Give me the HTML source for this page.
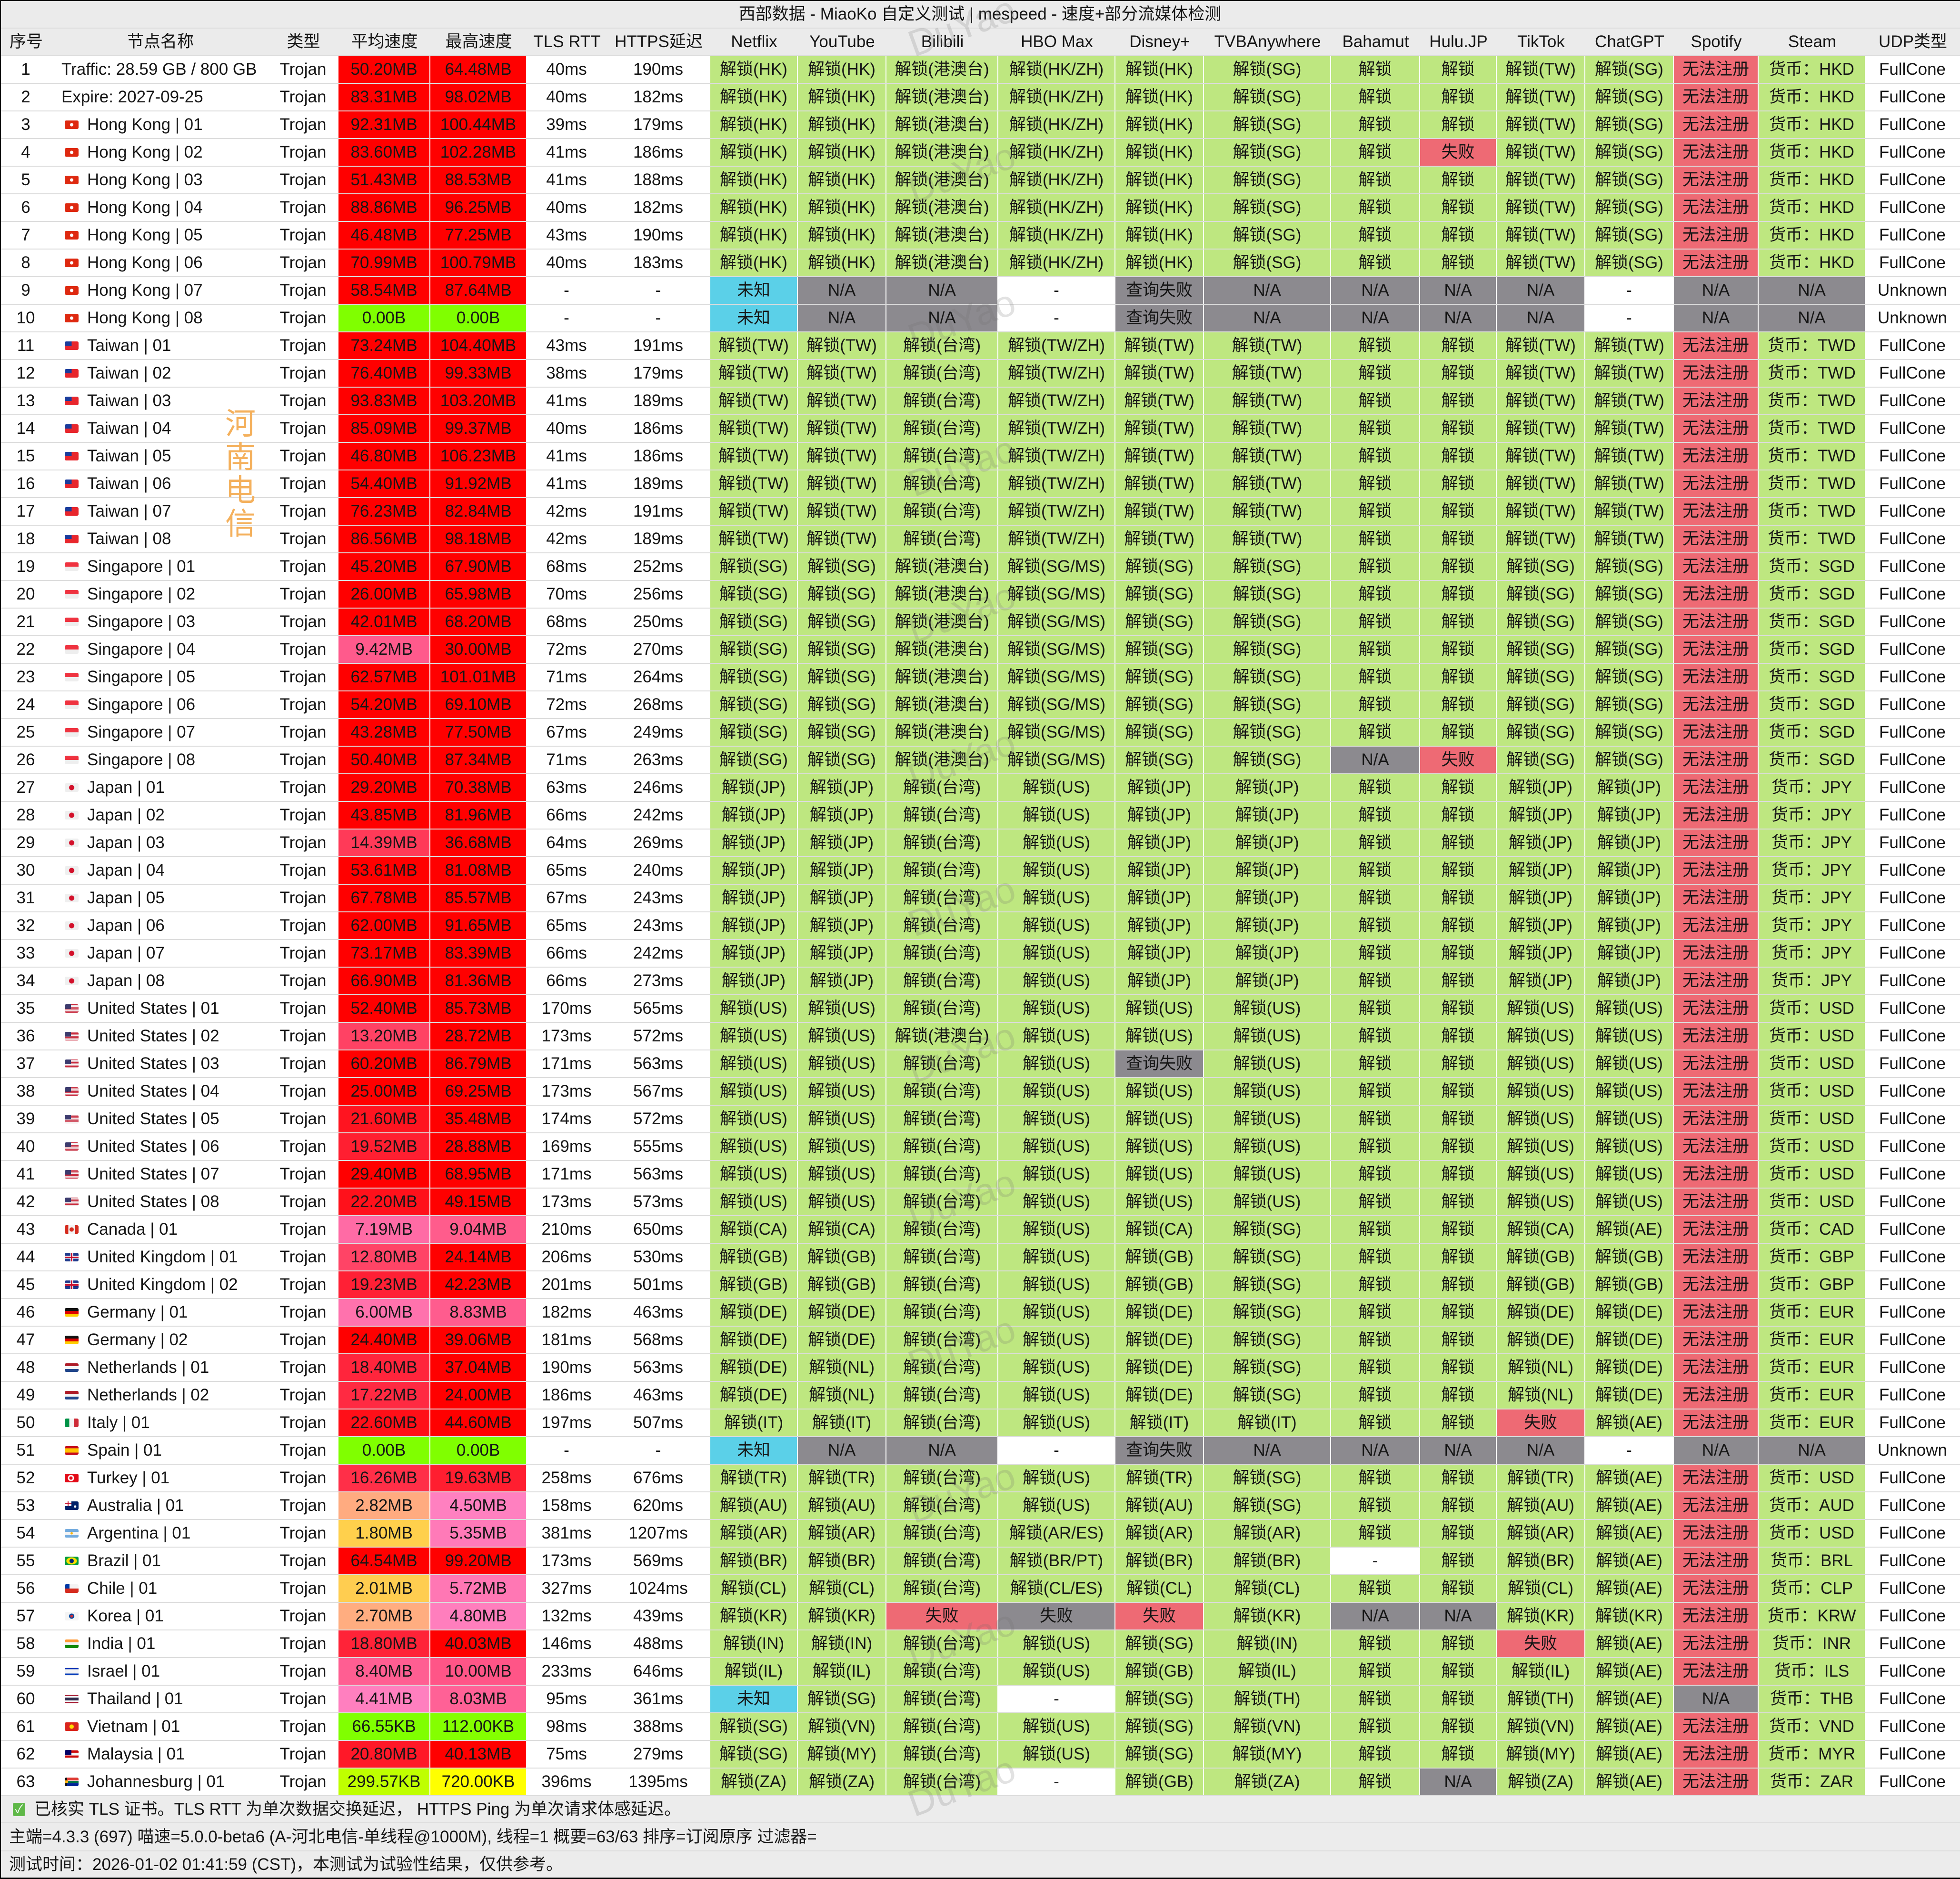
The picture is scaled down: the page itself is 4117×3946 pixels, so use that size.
<!DOCTYPE html>
<html><head><meta charset="utf-8"><title>mespeed</title>
<style>
*{margin:0;padding:0;box-sizing:border-box}
html,body{width:4117px;height:3946px;overflow:hidden;background:#fff}
body{position:relative;font-family:"Liberation Sans","Noto Sans CJK SC",sans-serif;font-size:35px;color:#161616}
.bt{position:absolute;left:0;top:0;width:4117px;height:2px;background:#000;z-index:6}
.bl{position:absolute;left:0;top:0;width:2px;height:3946px;background:#111;z-index:6}
.bb{position:absolute;left:0;top:3943px;width:4117px;height:3px;background:#000;z-index:6}
#tt{position:absolute;left:0;top:2px;width:4117px;height:56px;line-height:56px;background:#ebebeb;text-align:center;white-space:nowrap}
.gr{display:grid;grid-template-columns:110px 454px 147px 193px 203px 168px 217px 184px 186px 235px 246px 186px 267px 187px 161px 186px 186px 178px 225px 198px}
#hd{position:absolute;left:0;top:58px;width:4117px;height:60px;border-top:2px solid #dcdcdc;border-bottom:2px solid #dcdcdc;background:#ebebeb}
#hd>p{line-height:56px;text-align:center;white-space:nowrap}
#rows{position:absolute;left:0;top:118px;width:4117px}
.r{height:58px;border-bottom:2px solid #dcdcdc}
.r>p{border-right:2px solid #fff;line-height:56px;text-align:center;white-space:nowrap;overflow:hidden}
.r>p:where(:nth-child(4),:nth-child(5)){background:#f00}
.r>p:where(:nth-child(n+8):nth-child(-n+19)){background:#bee780}
.r>.p{background:#ee6a74}
.r>.x{background:#8c8a8f}
.r>.c{background:#5bd0e8}
.r>.w{background:#fff}
.r>.G{background:#80ff00}
.r>.n{text-align:left;padding-left:73px;position:relative}
.r>.n0{padding-left:19px}
.n span{position:absolute;left:26px;top:19px;width:29px;height:18px;border-radius:3px}
.hk{background:radial-gradient(circle,#fff 0 3px,#de2910 4px)}
.tw{background:linear-gradient(#1a3c9c,#1a3c9c) 0 0/50% 50% no-repeat,#e8262c}
.sg{background:linear-gradient(#ef3340 50%,#eeeeee 50%)}
.jp{background:radial-gradient(circle,#d3112b 0 5px,#efefef 6px)}
.us{background:linear-gradient(#3c3b6e,#3c3b6e) 0 0/45% 54% no-repeat,repeating-linear-gradient(#c8283b 0 1.4px,#f4f4f4 1.4px 2.8px)}
.ca{background:radial-gradient(circle,#d52b1e 0 4px,transparent 5px),linear-gradient(90deg,#d52b1e 26%,#f4f4f4 26% 74%,#d52b1e 74%)}
.gb{background:linear-gradient(#c8102e,#c8102e) center/100% 3px no-repeat,linear-gradient(#c8102e,#c8102e) center/3px 100% no-repeat,linear-gradient(#fff,#fff) center/100% 6px no-repeat,linear-gradient(#fff,#fff) center/6px 100% no-repeat,#203a8c}
.de{background:linear-gradient(#111 33.3%,#dd0000 33.3% 66.6%,#ffce00 66.6%)}
.nl{background:linear-gradient(#ae1c28 33.3%,#f4f4f4 33.3% 66.6%,#21468b 66.6%)}
.it{background:linear-gradient(90deg,#009246 33.3%,#f4f4f4 33.3% 66.6%,#ce2b37 66.6%)}
.es{background:linear-gradient(#c60b1e 25%,#ffc400 25% 75%,#c60b1e 75%)}
.tr{background:radial-gradient(circle at 45% 50%,#e30a17 0 3px,#fff 4px 6px,#e30a17 7px)}
.au{background:linear-gradient(#c8102e,#c8102e) 0 4px/14px 2px no-repeat,linear-gradient(#c8102e,#c8102e) 6px 0/2px 10px no-repeat,linear-gradient(#fff,#fff) 0 0/14px 10px no-repeat,radial-gradient(circle at 75% 60%,#fff 0 2px,transparent 3px),#012169}
.ar{background:radial-gradient(circle,#f6b40e 0 2px,transparent 3px),linear-gradient(#74acdf 33.3%,#f4f4f4 33.3% 66.6%,#74acdf 66.6%)}
.br{background:radial-gradient(circle,#002776 0 4px,transparent 5px),radial-gradient(ellipse 12px 8px at center,#ffdf00 0 85%,#009c3b 100%)}
.cl{background:linear-gradient(#0039a6,#0039a6) 0 0/10px 9px no-repeat,linear-gradient(#f4f4f4 50%,#d52b1e 50%)}
.kr{background:radial-gradient(circle,#cd2e3a 0 3px,#0047a0 3px 5px,#f4f4f4 6px)}
.in{background:linear-gradient(#ff9933 33.3%,#f4f4f4 33.3% 66.6%,#138808 66.6%)}
.il{background:linear-gradient(#f4f4f4 12%,#0038b8 12% 24%,#f4f4f4 24% 76%,#0038b8 76% 88%,#f4f4f4 88%)}
.th{background:linear-gradient(#a51931 16.6%,#f4f5f8 16.6% 33.3%,#2d2a4a 33.3% 66.6%,#f4f5f8 66.6% 83.3%,#a51931 83.3%)}
.vn{background:radial-gradient(circle,#ffde00 0 4px,#da251d 5px)}
.my{background:linear-gradient(#010066,#010066) 0 0/14px 10px no-repeat,repeating-linear-gradient(#cc0001 0 1.3px,#f4f4f4 1.3px 2.6px)}
.za{background:linear-gradient(#ffb612,#ffb612) 0 50%/7px 6px no-repeat,linear-gradient(#111,#111) 0 0/5px 100% no-repeat,linear-gradient(#de3831 33%,#f4f4f4 33% 40%,#007a4d 40% 60%,#f4f4f4 60% 67%,#002395 67%)}
.wm{position:absolute;left:1890px;width:260px;height:90px;line-height:90px;text-align:center;font-size:78px;color:rgba(110,110,110,0.2);transform:rotate(-20deg);z-index:4;white-space:nowrap}
#hn{position:absolute;left:470px;top:850px;width:70px;font-size:64px;line-height:70px;color:#f4b05c;text-align:center;z-index:4;font-family:"Noto Sans CJK SC",sans-serif}
#ft{position:absolute;left:0;top:3772px;width:4117px;height:171px;background:#ececec}
.fl{height:57px;line-height:55px;padding-left:19px;border-bottom:2px solid #dcdcdc;white-space:nowrap;position:relative}
.fl.l2{height:59px;line-height:57px}
.fl.l3{height:55px;line-height:55px;border-bottom:none}
.ck{position:absolute;left:27px;top:14px;width:26px;height:28px;background:#5fb848;border-radius:4px;color:#fff;font-size:24px;line-height:28px;text-align:center}
</style></head><body>
<div class="bt"></div><div class="bl"></div><div class="bb"></div>
<div id="tt">西部数据 - MiaoKo 自定义测试 | mespeed - 速度+部分流媒体检测</div>
<div id="hd" class="gr"><p>序号</p><p>节点名称</p><p>类型</p><p>平均速度</p><p>最高速度</p><p>TLS RTT</p><p>HTTPS延迟</p><p>Netflix</p><p>YouTube</p><p>Bilibili</p><p>HBO Max</p><p>Disney+</p><p>TVBAnywhere</p><p>Bahamut</p><p>Hulu.JP</p><p>TikTok</p><p>ChatGPT</p><p>Spotify</p><p>Steam</p><p>UDP类型</p></div>
<div id="rows">
<div class="gr r"><p>1</p><p class="n n0">Traffic: 28.59 GB / 800 GB</p><p>Trojan</p><p>50.20MB</p><p>64.48MB</p><p>40ms</p><p>190ms</p><p>解锁(HK)</p><p>解锁(HK)</p><p>解锁(港澳台)</p><p>解锁(HK/ZH)</p><p>解锁(HK)</p><p>解锁(SG)</p><p>解锁</p><p>解锁</p><p>解锁(TW)</p><p>解锁(SG)</p><p class=p>无法注册</p><p>货币：HKD</p><p>FullCone</p></div>
<div class="gr r"><p>2</p><p class="n n0">Expire: 2027-09-25</p><p>Trojan</p><p>83.31MB</p><p>98.02MB</p><p>40ms</p><p>182ms</p><p>解锁(HK)</p><p>解锁(HK)</p><p>解锁(港澳台)</p><p>解锁(HK/ZH)</p><p>解锁(HK)</p><p>解锁(SG)</p><p>解锁</p><p>解锁</p><p>解锁(TW)</p><p>解锁(SG)</p><p class=p>无法注册</p><p>货币：HKD</p><p>FullCone</p></div>
<div class="gr r"><p>3</p><p class="n"><span class="hk"></span>Hong Kong | 01</p><p>Trojan</p><p>92.31MB</p><p>100.44MB</p><p>39ms</p><p>179ms</p><p>解锁(HK)</p><p>解锁(HK)</p><p>解锁(港澳台)</p><p>解锁(HK/ZH)</p><p>解锁(HK)</p><p>解锁(SG)</p><p>解锁</p><p>解锁</p><p>解锁(TW)</p><p>解锁(SG)</p><p class=p>无法注册</p><p>货币：HKD</p><p>FullCone</p></div>
<div class="gr r"><p>4</p><p class="n"><span class="hk"></span>Hong Kong | 02</p><p>Trojan</p><p>83.60MB</p><p>102.28MB</p><p>41ms</p><p>186ms</p><p>解锁(HK)</p><p>解锁(HK)</p><p>解锁(港澳台)</p><p>解锁(HK/ZH)</p><p>解锁(HK)</p><p>解锁(SG)</p><p>解锁</p><p class=p>失败</p><p>解锁(TW)</p><p>解锁(SG)</p><p class=p>无法注册</p><p>货币：HKD</p><p>FullCone</p></div>
<div class="gr r"><p>5</p><p class="n"><span class="hk"></span>Hong Kong | 03</p><p>Trojan</p><p>51.43MB</p><p>88.53MB</p><p>41ms</p><p>188ms</p><p>解锁(HK)</p><p>解锁(HK)</p><p>解锁(港澳台)</p><p>解锁(HK/ZH)</p><p>解锁(HK)</p><p>解锁(SG)</p><p>解锁</p><p>解锁</p><p>解锁(TW)</p><p>解锁(SG)</p><p class=p>无法注册</p><p>货币：HKD</p><p>FullCone</p></div>
<div class="gr r"><p>6</p><p class="n"><span class="hk"></span>Hong Kong | 04</p><p>Trojan</p><p>88.86MB</p><p>96.25MB</p><p>40ms</p><p>182ms</p><p>解锁(HK)</p><p>解锁(HK)</p><p>解锁(港澳台)</p><p>解锁(HK/ZH)</p><p>解锁(HK)</p><p>解锁(SG)</p><p>解锁</p><p>解锁</p><p>解锁(TW)</p><p>解锁(SG)</p><p class=p>无法注册</p><p>货币：HKD</p><p>FullCone</p></div>
<div class="gr r"><p>7</p><p class="n"><span class="hk"></span>Hong Kong | 05</p><p>Trojan</p><p>46.48MB</p><p>77.25MB</p><p>43ms</p><p>190ms</p><p>解锁(HK)</p><p>解锁(HK)</p><p>解锁(港澳台)</p><p>解锁(HK/ZH)</p><p>解锁(HK)</p><p>解锁(SG)</p><p>解锁</p><p>解锁</p><p>解锁(TW)</p><p>解锁(SG)</p><p class=p>无法注册</p><p>货币：HKD</p><p>FullCone</p></div>
<div class="gr r"><p>8</p><p class="n"><span class="hk"></span>Hong Kong | 06</p><p>Trojan</p><p>70.99MB</p><p>100.79MB</p><p>40ms</p><p>183ms</p><p>解锁(HK)</p><p>解锁(HK)</p><p>解锁(港澳台)</p><p>解锁(HK/ZH)</p><p>解锁(HK)</p><p>解锁(SG)</p><p>解锁</p><p>解锁</p><p>解锁(TW)</p><p>解锁(SG)</p><p class=p>无法注册</p><p>货币：HKD</p><p>FullCone</p></div>
<div class="gr r"><p>9</p><p class="n"><span class="hk"></span>Hong Kong | 07</p><p>Trojan</p><p>58.54MB</p><p>87.64MB</p><p>-</p><p>-</p><p class=c>未知</p><p class=x>N/A</p><p class=x>N/A</p><p class=w>-</p><p class=x>查询失败</p><p class=x>N/A</p><p class=x>N/A</p><p class=x>N/A</p><p class=x>N/A</p><p class=w>-</p><p class=x>N/A</p><p class=x>N/A</p><p>Unknown</p></div>
<div class="gr r"><p>10</p><p class="n"><span class="hk"></span>Hong Kong | 08</p><p>Trojan</p><p class=G>0.00B</p><p class=G>0.00B</p><p>-</p><p>-</p><p class=c>未知</p><p class=x>N/A</p><p class=x>N/A</p><p class=w>-</p><p class=x>查询失败</p><p class=x>N/A</p><p class=x>N/A</p><p class=x>N/A</p><p class=x>N/A</p><p class=w>-</p><p class=x>N/A</p><p class=x>N/A</p><p>Unknown</p></div>
<div class="gr r"><p>11</p><p class="n"><span class="tw"></span>Taiwan | 01</p><p>Trojan</p><p>73.24MB</p><p>104.40MB</p><p>43ms</p><p>191ms</p><p>解锁(TW)</p><p>解锁(TW)</p><p>解锁(台湾)</p><p>解锁(TW/ZH)</p><p>解锁(TW)</p><p>解锁(TW)</p><p>解锁</p><p>解锁</p><p>解锁(TW)</p><p>解锁(TW)</p><p class=p>无法注册</p><p>货币：TWD</p><p>FullCone</p></div>
<div class="gr r"><p>12</p><p class="n"><span class="tw"></span>Taiwan | 02</p><p>Trojan</p><p>76.40MB</p><p>99.33MB</p><p>38ms</p><p>179ms</p><p>解锁(TW)</p><p>解锁(TW)</p><p>解锁(台湾)</p><p>解锁(TW/ZH)</p><p>解锁(TW)</p><p>解锁(TW)</p><p>解锁</p><p>解锁</p><p>解锁(TW)</p><p>解锁(TW)</p><p class=p>无法注册</p><p>货币：TWD</p><p>FullCone</p></div>
<div class="gr r"><p>13</p><p class="n"><span class="tw"></span>Taiwan | 03</p><p>Trojan</p><p>93.83MB</p><p>103.20MB</p><p>41ms</p><p>189ms</p><p>解锁(TW)</p><p>解锁(TW)</p><p>解锁(台湾)</p><p>解锁(TW/ZH)</p><p>解锁(TW)</p><p>解锁(TW)</p><p>解锁</p><p>解锁</p><p>解锁(TW)</p><p>解锁(TW)</p><p class=p>无法注册</p><p>货币：TWD</p><p>FullCone</p></div>
<div class="gr r"><p>14</p><p class="n"><span class="tw"></span>Taiwan | 04</p><p>Trojan</p><p>85.09MB</p><p>99.37MB</p><p>40ms</p><p>186ms</p><p>解锁(TW)</p><p>解锁(TW)</p><p>解锁(台湾)</p><p>解锁(TW/ZH)</p><p>解锁(TW)</p><p>解锁(TW)</p><p>解锁</p><p>解锁</p><p>解锁(TW)</p><p>解锁(TW)</p><p class=p>无法注册</p><p>货币：TWD</p><p>FullCone</p></div>
<div class="gr r"><p>15</p><p class="n"><span class="tw"></span>Taiwan | 05</p><p>Trojan</p><p>46.80MB</p><p>106.23MB</p><p>41ms</p><p>186ms</p><p>解锁(TW)</p><p>解锁(TW)</p><p>解锁(台湾)</p><p>解锁(TW/ZH)</p><p>解锁(TW)</p><p>解锁(TW)</p><p>解锁</p><p>解锁</p><p>解锁(TW)</p><p>解锁(TW)</p><p class=p>无法注册</p><p>货币：TWD</p><p>FullCone</p></div>
<div class="gr r"><p>16</p><p class="n"><span class="tw"></span>Taiwan | 06</p><p>Trojan</p><p>54.40MB</p><p>91.92MB</p><p>41ms</p><p>189ms</p><p>解锁(TW)</p><p>解锁(TW)</p><p>解锁(台湾)</p><p>解锁(TW/ZH)</p><p>解锁(TW)</p><p>解锁(TW)</p><p>解锁</p><p>解锁</p><p>解锁(TW)</p><p>解锁(TW)</p><p class=p>无法注册</p><p>货币：TWD</p><p>FullCone</p></div>
<div class="gr r"><p>17</p><p class="n"><span class="tw"></span>Taiwan | 07</p><p>Trojan</p><p>76.23MB</p><p>82.84MB</p><p>42ms</p><p>191ms</p><p>解锁(TW)</p><p>解锁(TW)</p><p>解锁(台湾)</p><p>解锁(TW/ZH)</p><p>解锁(TW)</p><p>解锁(TW)</p><p>解锁</p><p>解锁</p><p>解锁(TW)</p><p>解锁(TW)</p><p class=p>无法注册</p><p>货币：TWD</p><p>FullCone</p></div>
<div class="gr r"><p>18</p><p class="n"><span class="tw"></span>Taiwan | 08</p><p>Trojan</p><p>86.56MB</p><p>98.18MB</p><p>42ms</p><p>189ms</p><p>解锁(TW)</p><p>解锁(TW)</p><p>解锁(台湾)</p><p>解锁(TW/ZH)</p><p>解锁(TW)</p><p>解锁(TW)</p><p>解锁</p><p>解锁</p><p>解锁(TW)</p><p>解锁(TW)</p><p class=p>无法注册</p><p>货币：TWD</p><p>FullCone</p></div>
<div class="gr r"><p>19</p><p class="n"><span class="sg"></span>Singapore | 01</p><p>Trojan</p><p>45.20MB</p><p>67.90MB</p><p>68ms</p><p>252ms</p><p>解锁(SG)</p><p>解锁(SG)</p><p>解锁(港澳台)</p><p>解锁(SG/MS)</p><p>解锁(SG)</p><p>解锁(SG)</p><p>解锁</p><p>解锁</p><p>解锁(SG)</p><p>解锁(SG)</p><p class=p>无法注册</p><p>货币：SGD</p><p>FullCone</p></div>
<div class="gr r"><p>20</p><p class="n"><span class="sg"></span>Singapore | 02</p><p>Trojan</p><p>26.00MB</p><p>65.98MB</p><p>70ms</p><p>256ms</p><p>解锁(SG)</p><p>解锁(SG)</p><p>解锁(港澳台)</p><p>解锁(SG/MS)</p><p>解锁(SG)</p><p>解锁(SG)</p><p>解锁</p><p>解锁</p><p>解锁(SG)</p><p>解锁(SG)</p><p class=p>无法注册</p><p>货币：SGD</p><p>FullCone</p></div>
<div class="gr r"><p>21</p><p class="n"><span class="sg"></span>Singapore | 03</p><p>Trojan</p><p>42.01MB</p><p>68.20MB</p><p>68ms</p><p>250ms</p><p>解锁(SG)</p><p>解锁(SG)</p><p>解锁(港澳台)</p><p>解锁(SG/MS)</p><p>解锁(SG)</p><p>解锁(SG)</p><p>解锁</p><p>解锁</p><p>解锁(SG)</p><p>解锁(SG)</p><p class=p>无法注册</p><p>货币：SGD</p><p>FullCone</p></div>
<div class="gr r"><p>22</p><p class="n"><span class="sg"></span>Singapore | 04</p><p>Trojan</p><p style="background:#ff5a8c">9.42MB</p><p>30.00MB</p><p>72ms</p><p>270ms</p><p>解锁(SG)</p><p>解锁(SG)</p><p>解锁(港澳台)</p><p>解锁(SG/MS)</p><p>解锁(SG)</p><p>解锁(SG)</p><p>解锁</p><p>解锁</p><p>解锁(SG)</p><p>解锁(SG)</p><p class=p>无法注册</p><p>货币：SGD</p><p>FullCone</p></div>
<div class="gr r"><p>23</p><p class="n"><span class="sg"></span>Singapore | 05</p><p>Trojan</p><p>62.57MB</p><p>101.01MB</p><p>71ms</p><p>264ms</p><p>解锁(SG)</p><p>解锁(SG)</p><p>解锁(港澳台)</p><p>解锁(SG/MS)</p><p>解锁(SG)</p><p>解锁(SG)</p><p>解锁</p><p>解锁</p><p>解锁(SG)</p><p>解锁(SG)</p><p class=p>无法注册</p><p>货币：SGD</p><p>FullCone</p></div>
<div class="gr r"><p>24</p><p class="n"><span class="sg"></span>Singapore | 06</p><p>Trojan</p><p>54.20MB</p><p>69.10MB</p><p>72ms</p><p>268ms</p><p>解锁(SG)</p><p>解锁(SG)</p><p>解锁(港澳台)</p><p>解锁(SG/MS)</p><p>解锁(SG)</p><p>解锁(SG)</p><p>解锁</p><p>解锁</p><p>解锁(SG)</p><p>解锁(SG)</p><p class=p>无法注册</p><p>货币：SGD</p><p>FullCone</p></div>
<div class="gr r"><p>25</p><p class="n"><span class="sg"></span>Singapore | 07</p><p>Trojan</p><p>43.28MB</p><p>77.50MB</p><p>67ms</p><p>249ms</p><p>解锁(SG)</p><p>解锁(SG)</p><p>解锁(港澳台)</p><p>解锁(SG/MS)</p><p>解锁(SG)</p><p>解锁(SG)</p><p>解锁</p><p>解锁</p><p>解锁(SG)</p><p>解锁(SG)</p><p class=p>无法注册</p><p>货币：SGD</p><p>FullCone</p></div>
<div class="gr r"><p>26</p><p class="n"><span class="sg"></span>Singapore | 08</p><p>Trojan</p><p>50.40MB</p><p>87.34MB</p><p>71ms</p><p>263ms</p><p>解锁(SG)</p><p>解锁(SG)</p><p>解锁(港澳台)</p><p>解锁(SG/MS)</p><p>解锁(SG)</p><p>解锁(SG)</p><p class=x>N/A</p><p class=p>失败</p><p>解锁(SG)</p><p>解锁(SG)</p><p class=p>无法注册</p><p>货币：SGD</p><p>FullCone</p></div>
<div class="gr r"><p>27</p><p class="n"><span class="jp"></span>Japan | 01</p><p>Trojan</p><p>29.20MB</p><p>70.38MB</p><p>63ms</p><p>246ms</p><p>解锁(JP)</p><p>解锁(JP)</p><p>解锁(台湾)</p><p>解锁(US)</p><p>解锁(JP)</p><p>解锁(JP)</p><p>解锁</p><p>解锁</p><p>解锁(JP)</p><p>解锁(JP)</p><p class=p>无法注册</p><p>货币：JPY</p><p>FullCone</p></div>
<div class="gr r"><p>28</p><p class="n"><span class="jp"></span>Japan | 02</p><p>Trojan</p><p>43.85MB</p><p>81.96MB</p><p>66ms</p><p>242ms</p><p>解锁(JP)</p><p>解锁(JP)</p><p>解锁(台湾)</p><p>解锁(US)</p><p>解锁(JP)</p><p>解锁(JP)</p><p>解锁</p><p>解锁</p><p>解锁(JP)</p><p>解锁(JP)</p><p class=p>无法注册</p><p>货币：JPY</p><p>FullCone</p></div>
<div class="gr r"><p>29</p><p class="n"><span class="jp"></span>Japan | 03</p><p>Trojan</p><p style="background:#ff3a58">14.39MB</p><p>36.68MB</p><p>64ms</p><p>269ms</p><p>解锁(JP)</p><p>解锁(JP)</p><p>解锁(台湾)</p><p>解锁(US)</p><p>解锁(JP)</p><p>解锁(JP)</p><p>解锁</p><p>解锁</p><p>解锁(JP)</p><p>解锁(JP)</p><p class=p>无法注册</p><p>货币：JPY</p><p>FullCone</p></div>
<div class="gr r"><p>30</p><p class="n"><span class="jp"></span>Japan | 04</p><p>Trojan</p><p>53.61MB</p><p>81.08MB</p><p>65ms</p><p>240ms</p><p>解锁(JP)</p><p>解锁(JP)</p><p>解锁(台湾)</p><p>解锁(US)</p><p>解锁(JP)</p><p>解锁(JP)</p><p>解锁</p><p>解锁</p><p>解锁(JP)</p><p>解锁(JP)</p><p class=p>无法注册</p><p>货币：JPY</p><p>FullCone</p></div>
<div class="gr r"><p>31</p><p class="n"><span class="jp"></span>Japan | 05</p><p>Trojan</p><p>67.78MB</p><p>85.57MB</p><p>67ms</p><p>243ms</p><p>解锁(JP)</p><p>解锁(JP)</p><p>解锁(台湾)</p><p>解锁(US)</p><p>解锁(JP)</p><p>解锁(JP)</p><p>解锁</p><p>解锁</p><p>解锁(JP)</p><p>解锁(JP)</p><p class=p>无法注册</p><p>货币：JPY</p><p>FullCone</p></div>
<div class="gr r"><p>32</p><p class="n"><span class="jp"></span>Japan | 06</p><p>Trojan</p><p>62.00MB</p><p>91.65MB</p><p>65ms</p><p>243ms</p><p>解锁(JP)</p><p>解锁(JP)</p><p>解锁(台湾)</p><p>解锁(US)</p><p>解锁(JP)</p><p>解锁(JP)</p><p>解锁</p><p>解锁</p><p>解锁(JP)</p><p>解锁(JP)</p><p class=p>无法注册</p><p>货币：JPY</p><p>FullCone</p></div>
<div class="gr r"><p>33</p><p class="n"><span class="jp"></span>Japan | 07</p><p>Trojan</p><p>73.17MB</p><p>83.39MB</p><p>66ms</p><p>242ms</p><p>解锁(JP)</p><p>解锁(JP)</p><p>解锁(台湾)</p><p>解锁(US)</p><p>解锁(JP)</p><p>解锁(JP)</p><p>解锁</p><p>解锁</p><p>解锁(JP)</p><p>解锁(JP)</p><p class=p>无法注册</p><p>货币：JPY</p><p>FullCone</p></div>
<div class="gr r"><p>34</p><p class="n"><span class="jp"></span>Japan | 08</p><p>Trojan</p><p>66.90MB</p><p>81.36MB</p><p>66ms</p><p>273ms</p><p>解锁(JP)</p><p>解锁(JP)</p><p>解锁(台湾)</p><p>解锁(US)</p><p>解锁(JP)</p><p>解锁(JP)</p><p>解锁</p><p>解锁</p><p>解锁(JP)</p><p>解锁(JP)</p><p class=p>无法注册</p><p>货币：JPY</p><p>FullCone</p></div>
<div class="gr r"><p>35</p><p class="n"><span class="us"></span>United States | 01</p><p>Trojan</p><p>52.40MB</p><p>85.73MB</p><p>170ms</p><p>565ms</p><p>解锁(US)</p><p>解锁(US)</p><p>解锁(台湾)</p><p>解锁(US)</p><p>解锁(US)</p><p>解锁(US)</p><p>解锁</p><p>解锁</p><p>解锁(US)</p><p>解锁(US)</p><p class=p>无法注册</p><p>货币：USD</p><p>FullCone</p></div>
<div class="gr r"><p>36</p><p class="n"><span class="us"></span>United States | 02</p><p>Trojan</p><p style="background:#ff4264">13.20MB</p><p>28.72MB</p><p>173ms</p><p>572ms</p><p>解锁(US)</p><p>解锁(US)</p><p>解锁(港澳台)</p><p>解锁(US)</p><p>解锁(US)</p><p>解锁(US)</p><p>解锁</p><p>解锁</p><p>解锁(US)</p><p>解锁(US)</p><p class=p>无法注册</p><p>货币：USD</p><p>FullCone</p></div>
<div class="gr r"><p>37</p><p class="n"><span class="us"></span>United States | 03</p><p>Trojan</p><p>60.20MB</p><p>86.79MB</p><p>171ms</p><p>563ms</p><p>解锁(US)</p><p>解锁(US)</p><p>解锁(台湾)</p><p>解锁(US)</p><p class=x>查询失败</p><p>解锁(US)</p><p>解锁</p><p>解锁</p><p>解锁(US)</p><p>解锁(US)</p><p class=p>无法注册</p><p>货币：USD</p><p>FullCone</p></div>
<div class="gr r"><p>38</p><p class="n"><span class="us"></span>United States | 04</p><p>Trojan</p><p>25.00MB</p><p>69.25MB</p><p>173ms</p><p>567ms</p><p>解锁(US)</p><p>解锁(US)</p><p>解锁(台湾)</p><p>解锁(US)</p><p>解锁(US)</p><p>解锁(US)</p><p>解锁</p><p>解锁</p><p>解锁(US)</p><p>解锁(US)</p><p class=p>无法注册</p><p>货币：USD</p><p>FullCone</p></div>
<div class="gr r"><p>39</p><p class="n"><span class="us"></span>United States | 05</p><p>Trojan</p><p style="background:#ff1420">21.60MB</p><p>35.48MB</p><p>174ms</p><p>572ms</p><p>解锁(US)</p><p>解锁(US)</p><p>解锁(台湾)</p><p>解锁(US)</p><p>解锁(US)</p><p>解锁(US)</p><p>解锁</p><p>解锁</p><p>解锁(US)</p><p>解锁(US)</p><p class=p>无法注册</p><p>货币：USD</p><p>FullCone</p></div>
<div class="gr r"><p>40</p><p class="n"><span class="us"></span>United States | 06</p><p>Trojan</p><p style="background:#ff1f31">19.52MB</p><p>28.88MB</p><p>169ms</p><p>555ms</p><p>解锁(US)</p><p>解锁(US)</p><p>解锁(台湾)</p><p>解锁(US)</p><p>解锁(US)</p><p>解锁(US)</p><p>解锁</p><p>解锁</p><p>解锁(US)</p><p>解锁(US)</p><p class=p>无法注册</p><p>货币：USD</p><p>FullCone</p></div>
<div class="gr r"><p>41</p><p class="n"><span class="us"></span>United States | 07</p><p>Trojan</p><p>29.40MB</p><p>68.95MB</p><p>171ms</p><p>563ms</p><p>解锁(US)</p><p>解锁(US)</p><p>解锁(台湾)</p><p>解锁(US)</p><p>解锁(US)</p><p>解锁(US)</p><p>解锁</p><p>解锁</p><p>解锁(US)</p><p>解锁(US)</p><p class=p>无法注册</p><p>货币：USD</p><p>FullCone</p></div>
<div class="gr r"><p>42</p><p class="n"><span class="us"></span>United States | 08</p><p>Trojan</p><p style="background:#ff111b">22.20MB</p><p>49.15MB</p><p>173ms</p><p>573ms</p><p>解锁(US)</p><p>解锁(US)</p><p>解锁(台湾)</p><p>解锁(US)</p><p>解锁(US)</p><p>解锁(US)</p><p>解锁</p><p>解锁</p><p>解锁(US)</p><p>解锁(US)</p><p class=p>无法注册</p><p>货币：USD</p><p>FullCone</p></div>
<div class="gr r"><p>43</p><p class="n"><span class="ca"></span>Canada | 01</p><p>Trojan</p><p style="background:#ff6ba5">7.19MB</p><p style="background:#ff5c8c">9.04MB</p><p>210ms</p><p>650ms</p><p>解锁(CA)</p><p>解锁(CA)</p><p>解锁(台湾)</p><p>解锁(US)</p><p>解锁(CA)</p><p>解锁(SG)</p><p>解锁</p><p>解锁</p><p>解锁(CA)</p><p>解锁(AE)</p><p class=p>无法注册</p><p>货币：CAD</p><p>FullCone</p></div>
<div class="gr r"><p>44</p><p class="n"><span class="gb"></span>United Kingdom | 01</p><p>Trojan</p><p style="background:#ff4466">12.80MB</p><p>24.14MB</p><p>206ms</p><p>530ms</p><p>解锁(GB)</p><p>解锁(GB)</p><p>解锁(台湾)</p><p>解锁(US)</p><p>解锁(GB)</p><p>解锁(SG)</p><p>解锁</p><p>解锁</p><p>解锁(GB)</p><p>解锁(GB)</p><p class=p>无法注册</p><p>货币：GBP</p><p>FullCone</p></div>
<div class="gr r"><p>45</p><p class="n"><span class="gb"></span>United Kingdom | 02</p><p>Trojan</p><p style="background:#ff2035">19.23MB</p><p>42.23MB</p><p>201ms</p><p>501ms</p><p>解锁(GB)</p><p>解锁(GB)</p><p>解锁(台湾)</p><p>解锁(US)</p><p>解锁(GB)</p><p>解锁(SG)</p><p>解锁</p><p>解锁</p><p>解锁(GB)</p><p>解锁(GB)</p><p class=p>无法注册</p><p>货币：GBP</p><p>FullCone</p></div>
<div class="gr r"><p>46</p><p class="n"><span class="de"></span>Germany | 01</p><p>Trojan</p><p style="background:#ff72ad">6.00MB</p><p style="background:#ff5c8e">8.83MB</p><p>182ms</p><p>463ms</p><p>解锁(DE)</p><p>解锁(DE)</p><p>解锁(台湾)</p><p>解锁(US)</p><p>解锁(DE)</p><p>解锁(SG)</p><p>解锁</p><p>解锁</p><p>解锁(DE)</p><p>解锁(DE)</p><p class=p>无法注册</p><p>货币：EUR</p><p>FullCone</p></div>
<div class="gr r"><p>47</p><p class="n"><span class="de"></span>Germany | 02</p><p>Trojan</p><p>24.40MB</p><p>39.06MB</p><p>181ms</p><p>568ms</p><p>解锁(DE)</p><p>解锁(DE)</p><p>解锁(台湾)</p><p>解锁(US)</p><p>解锁(DE)</p><p>解锁(SG)</p><p>解锁</p><p>解锁</p><p>解锁(DE)</p><p>解锁(DE)</p><p class=p>无法注册</p><p>货币：EUR</p><p>FullCone</p></div>
<div class="gr r"><p>48</p><p class="n"><span class="nl"></span>Netherlands | 01</p><p>Trojan</p><p style="background:#ff253c">18.40MB</p><p>37.04MB</p><p>190ms</p><p>563ms</p><p>解锁(DE)</p><p>解锁(NL)</p><p>解锁(台湾)</p><p>解锁(US)</p><p>解锁(DE)</p><p>解锁(SG)</p><p>解锁</p><p>解锁</p><p>解锁(NL)</p><p>解锁(DE)</p><p class=p>无法注册</p><p>货币：EUR</p><p>FullCone</p></div>
<div class="gr r"><p>49</p><p class="n"><span class="nl"></span>Netherlands | 02</p><p>Trojan</p><p style="background:#ff2a42">17.22MB</p><p>24.00MB</p><p>186ms</p><p>463ms</p><p>解锁(DE)</p><p>解锁(NL)</p><p>解锁(台湾)</p><p>解锁(US)</p><p>解锁(DE)</p><p>解锁(SG)</p><p>解锁</p><p>解锁</p><p>解锁(NL)</p><p>解锁(DE)</p><p class=p>无法注册</p><p>货币：EUR</p><p>FullCone</p></div>
<div class="gr r"><p>50</p><p class="n"><span class="it"></span>Italy | 01</p><p>Trojan</p><p style="background:#ff0f18">22.60MB</p><p>44.60MB</p><p>197ms</p><p>507ms</p><p>解锁(IT)</p><p>解锁(IT)</p><p>解锁(台湾)</p><p>解锁(US)</p><p>解锁(IT)</p><p>解锁(IT)</p><p>解锁</p><p>解锁</p><p class=p>失败</p><p>解锁(AE)</p><p class=p>无法注册</p><p>货币：EUR</p><p>FullCone</p></div>
<div class="gr r"><p>51</p><p class="n"><span class="es"></span>Spain | 01</p><p>Trojan</p><p class=G>0.00B</p><p class=G>0.00B</p><p>-</p><p>-</p><p class=c>未知</p><p class=x>N/A</p><p class=x>N/A</p><p class=w>-</p><p class=x>查询失败</p><p class=x>N/A</p><p class=x>N/A</p><p class=x>N/A</p><p class=x>N/A</p><p class=w>-</p><p class=x>N/A</p><p class=x>N/A</p><p>Unknown</p></div>
<div class="gr r"><p>52</p><p class="n"><span class="tr"></span>Turkey | 01</p><p>Trojan</p><p style="background:#ff2f48">16.26MB</p><p style="background:#ff1e30">19.63MB</p><p>258ms</p><p>676ms</p><p>解锁(TR)</p><p>解锁(TR)</p><p>解锁(台湾)</p><p>解锁(US)</p><p>解锁(TR)</p><p>解锁(SG)</p><p>解锁</p><p>解锁</p><p>解锁(TR)</p><p>解锁(AE)</p><p class=p>无法注册</p><p>货币：USD</p><p>FullCone</p></div>
<div class="gr r"><p>53</p><p class="n"><span class="au"></span>Australia | 01</p><p>Trojan</p><p style="background:#ffab80">2.82MB</p><p style="background:#ff80c0">4.50MB</p><p>158ms</p><p>620ms</p><p>解锁(AU)</p><p>解锁(AU)</p><p>解锁(台湾)</p><p>解锁(US)</p><p>解锁(AU)</p><p>解锁(SG)</p><p>解锁</p><p>解锁</p><p>解锁(AU)</p><p>解锁(AE)</p><p class=p>无法注册</p><p>货币：AUD</p><p>FullCone</p></div>
<div class="gr r"><p>54</p><p class="n"><span class="ar"></span>Argentina | 01</p><p>Trojan</p><p style="background:#ffd04c">1.80MB</p><p style="background:#ff7ab8">5.35MB</p><p>381ms</p><p>1207ms</p><p>解锁(AR)</p><p>解锁(AR)</p><p>解锁(台湾)</p><p>解锁(AR/ES)</p><p>解锁(AR)</p><p>解锁(AR)</p><p>解锁</p><p>解锁</p><p>解锁(AR)</p><p>解锁(AE)</p><p class=p>无法注册</p><p>货币：USD</p><p>FullCone</p></div>
<div class="gr r"><p>55</p><p class="n"><span class="br"></span>Brazil | 01</p><p>Trojan</p><p>64.54MB</p><p>99.20MB</p><p>173ms</p><p>569ms</p><p>解锁(BR)</p><p>解锁(BR)</p><p>解锁(台湾)</p><p>解锁(BR/PT)</p><p>解锁(BR)</p><p>解锁(BR)</p><p class=w>-</p><p>解锁</p><p>解锁(BR)</p><p>解锁(AE)</p><p class=p>无法注册</p><p>货币：BRL</p><p>FullCone</p></div>
<div class="gr r"><p>56</p><p class="n"><span class="cl"></span>Chile | 01</p><p>Trojan</p><p style="background:#ffcd50">2.01MB</p><p style="background:#ff77b4">5.72MB</p><p>327ms</p><p>1024ms</p><p>解锁(CL)</p><p>解锁(CL)</p><p>解锁(台湾)</p><p>解锁(CL/ES)</p><p>解锁(CL)</p><p>解锁(CL)</p><p>解锁</p><p>解锁</p><p>解锁(CL)</p><p>解锁(AE)</p><p class=p>无法注册</p><p>货币：CLP</p><p>FullCone</p></div>
<div class="gr r"><p>57</p><p class="n"><span class="kr"></span>Korea | 01</p><p>Trojan</p><p style="background:#ffad80">2.70MB</p><p style="background:#ff7ebd">4.80MB</p><p>132ms</p><p>439ms</p><p>解锁(KR)</p><p>解锁(KR)</p><p class=p>失败</p><p class=x>失败</p><p class=p>失败</p><p>解锁(KR)</p><p class=x>N/A</p><p class=x>N/A</p><p>解锁(KR)</p><p>解锁(KR)</p><p class=p>无法注册</p><p>货币：KRW</p><p>FullCone</p></div>
<div class="gr r"><p>58</p><p class="n"><span class="in"></span>India | 01</p><p>Trojan</p><p style="background:#ff2338">18.80MB</p><p>40.03MB</p><p>146ms</p><p>488ms</p><p>解锁(IN)</p><p>解锁(IN)</p><p>解锁(台湾)</p><p>解锁(US)</p><p>解锁(SG)</p><p>解锁(IN)</p><p>解锁</p><p>解锁</p><p class=p>失败</p><p>解锁(AE)</p><p class=p>无法注册</p><p>货币：INR</p><p>FullCone</p></div>
<div class="gr r"><p>59</p><p class="n"><span class="il"></span>Israel | 01</p><p>Trojan</p><p style="background:#ff5e92">8.40MB</p><p style="background:#ff5587">10.00MB</p><p>233ms</p><p>646ms</p><p>解锁(IL)</p><p>解锁(IL)</p><p>解锁(台湾)</p><p>解锁(US)</p><p>解锁(GB)</p><p>解锁(IL)</p><p>解锁</p><p>解锁</p><p>解锁(IL)</p><p>解锁(AE)</p><p class=p>无法注册</p><p>货币：ILS</p><p>FullCone</p></div>
<div class="gr r"><p>60</p><p class="n"><span class="th"></span>Thailand | 01</p><p>Trojan</p><p style="background:#ff7fbf">4.41MB</p><p style="background:#ff6196">8.03MB</p><p>95ms</p><p>361ms</p><p class=c>未知</p><p>解锁(SG)</p><p>解锁(台湾)</p><p class=w>-</p><p>解锁(SG)</p><p>解锁(TH)</p><p>解锁</p><p>解锁</p><p>解锁(TH)</p><p>解锁(AE)</p><p class=x>N/A</p><p>货币：THB</p><p>FullCone</p></div>
<div class="gr r"><p>61</p><p class="n"><span class="vn"></span>Vietnam | 01</p><p>Trojan</p><p class=G>66.55KB</p><p style="background:#84ff00">112.00KB</p><p>98ms</p><p>388ms</p><p>解锁(SG)</p><p>解锁(VN)</p><p>解锁(台湾)</p><p>解锁(US)</p><p>解锁(SG)</p><p>解锁(VN)</p><p>解锁</p><p>解锁</p><p>解锁(VN)</p><p>解锁(AE)</p><p class=p>无法注册</p><p>货币：VND</p><p>FullCone</p></div>
<div class="gr r"><p>62</p><p class="n"><span class="my"></span>Malaysia | 01</p><p>Trojan</p><p style="background:#ff1828">20.80MB</p><p>40.13MB</p><p>75ms</p><p>279ms</p><p>解锁(SG)</p><p>解锁(MY)</p><p>解锁(台湾)</p><p>解锁(US)</p><p>解锁(SG)</p><p>解锁(MY)</p><p>解锁</p><p>解锁</p><p>解锁(MY)</p><p>解锁(AE)</p><p class=p>无法注册</p><p>货币：MYR</p><p>FullCone</p></div>
<div class="gr r"><p>63</p><p class="n"><span class="za"></span>Johannesburg | 01</p><p>Trojan</p><p style="background:#bfff00">299.57KB</p><p style="background:#ffff00">720.00KB</p><p>396ms</p><p>1395ms</p><p>解锁(ZA)</p><p>解锁(ZA)</p><p>解锁(台湾)</p><p class=w>-</p><p>解锁(GB)</p><p>解锁(ZA)</p><p>解锁</p><p class=x>N/A</p><p>解锁(ZA)</p><p>解锁(AE)</p><p class=p>无法注册</p><p>货币：ZAR</p><p>FullCone</p></div>
</div>
<div id="ft">
<div class="fl" style="padding-left:72px"><span class="ck">✓</span>已核实 TLS 证书。TLS RTT 为单次数据交换延迟， HTTPS Ping 为单次请求体感延迟。</div>
<div class="fl l2">主端=4.3.3 (697) 喵速=5.0.0-beta6 (A-河北电信-单线程@1000M), 线程=1 概要=63/63 排序=订阅原序 过滤器=</div>
<div class="fl l3">测试时间：2026-01-02 01:41:59 (CST)，本测试为试验性结果，仅供参考。</div>
</div>
<div id="hn">河<br>南<br>电<br>信</div>
<div class="wm" style="top:10px">DuYao</div>
<div class="wm" style="top:318px">DuYao</div>
<div class="wm" style="top:626px">DuYao</div>
<div class="wm" style="top:934px">DuYao</div>
<div class="wm" style="top:1242px">DuYao</div>
<div class="wm" style="top:1550px">DuYao</div>
<div class="wm" style="top:1858px">DuYao</div>
<div class="wm" style="top:2166px">DuYao</div>
<div class="wm" style="top:2474px">DuYao</div>
<div class="wm" style="top:2782px">DuYao</div>
<div class="wm" style="top:3090px">DuYao</div>
<div class="wm" style="top:3398px">DuYao</div>
<div class="wm" style="top:3706px">DuYao</div>
</body></html>
